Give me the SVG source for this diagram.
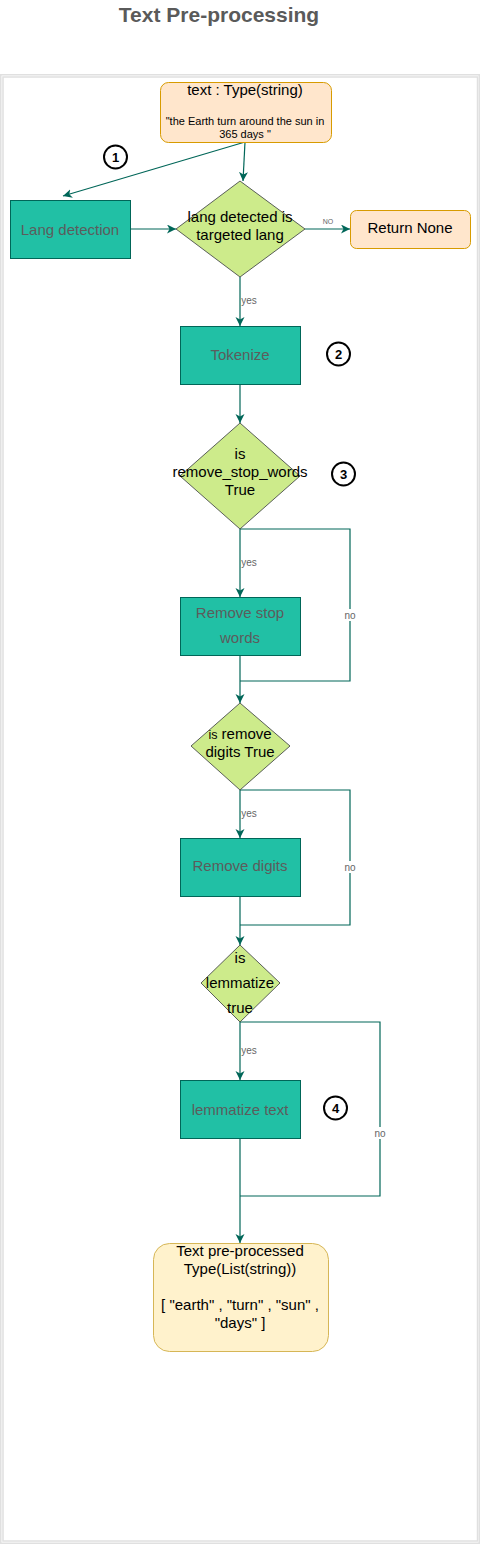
<svg xmlns="http://www.w3.org/2000/svg" width="480" height="1545" viewBox="0 0 480 1545">
<style>
text{font-family:"Liberation Sans",Arial,Helvetica,sans-serif;text-anchor:middle;dominant-baseline:central}
.proc{fill:#21c0a5;stroke:#006658;stroke-width:1}
.proc-t{fill:#5c5c5c;font-size:15px}
.dec{fill:#cdeb8b;stroke:#36393d;stroke-width:0.8}
.dec-t{fill:#000;font-size:15px}
.term{fill:#ffe6cc;stroke:#d79b00;stroke-width:1}
.out{fill:#fff2cc;stroke:#d6b656;stroke-width:1}
.blk{fill:#000;font-size:15px}
.lbl{fill:#666;font-size:10px}
.conn{fill:none;stroke:#006658;stroke-width:1.2}
.badge{fill:#fff;stroke:#000;stroke-width:2}
.badge-t{fill:#000;font-size:13px;font-weight:bold}
.frame{fill:none;stroke:#e0e0e0;stroke-width:1.5}
</style>
<defs>
<marker id="arr" markerUnits="userSpaceOnUse" markerWidth="10" markerHeight="10" refX="9" refY="4.5" orient="auto">
<path d="M0,0 L9,4.5 L0,9 L2.5,4.5 z" fill="#006658"/>
</marker>
</defs>
<rect x="0" y="0" width="480" height="1545" fill="#fff"/>
<text x="219" y="14" style="font-size:21px;font-weight:bold;fill:#5a5a5a">Text Pre-processing</text>
<rect class="frame" x="0.75" y="74.75" width="478.5" height="1468.5"/>
<rect class="frame" x="3" y="77" width="474.5" height="1464"/>

<g id="connectors">
<line class="conn" x1="245" y1="142" x2="63" y2="196" marker-end="url(#arr)"/>
<line class="conn" x1="245" y1="142" x2="243" y2="181" marker-end="url(#arr)"/>
<line class="conn" x1="130" y1="229" x2="176" y2="229" marker-end="url(#arr)"/>
<line class="conn" x1="305" y1="229" x2="350" y2="229" marker-end="url(#arr)"/>
<text x="328" y="221" style="font-size:7px;fill:#666">NO</text>
<line class="conn" x1="240" y1="277" x2="240" y2="326" marker-end="url(#arr)"/>
<rect x="242" y="294" width="16" height="12" fill="#fff"/>
<text class="lbl" x="249" y="300">yes</text>
<line class="conn" x1="240" y1="384" x2="240" y2="423" marker-end="url(#arr)"/>
<line class="conn" x1="240" y1="529" x2="240" y2="597" marker-end="url(#arr)"/>
<rect x="242" y="556" width="16" height="12" fill="#fff"/>
<text class="lbl" x="249" y="562">yes</text>
<polyline class="conn" points="240,529 350,529 350,681 240,681"/>
<rect x="343" y="609" width="14" height="12" fill="#fff"/>
<text class="lbl" x="350" y="615">no</text>
<line class="conn" x1="240" y1="655" x2="240" y2="703" marker-end="url(#arr)"/>
<line class="conn" x1="240" y1="790" x2="240" y2="838" marker-end="url(#arr)"/>
<rect x="242" y="807" width="16" height="12" fill="#fff"/>
<text class="lbl" x="249" y="813">yes</text>
<polyline class="conn" points="240,790 350,790 350,925 240,925"/>
<rect x="343" y="861" width="14" height="12" fill="#fff"/>
<text class="lbl" x="350" y="867">no</text>
<line class="conn" x1="240" y1="896" x2="240" y2="945" marker-end="url(#arr)"/>
<line class="conn" x1="240" y1="1022" x2="240" y2="1080" marker-end="url(#arr)"/>
<rect x="242" y="1044" width="16" height="12" fill="#fff"/>
<text class="lbl" x="249" y="1050">yes</text>
<polyline class="conn" points="240,1022 380,1022 380,1196 240,1196"/>
<rect x="373" y="1127" width="14" height="12" fill="#fff"/>
<text class="lbl" x="380" y="1133">no</text>
<line class="conn" x1="240" y1="1138" x2="240" y2="1243" marker-end="url(#arr)"/>
</g>

<g id="input">
<rect class="term" x="160.5" y="82.5" width="171" height="60" rx="8"/>
<text class="blk" x="245" y="89.5">text : Type(string)</text>
<text x="245" y="121" style="font-size:11px;fill:#000">"the Earth turn around the sun in</text>
<text x="245" y="134" style="font-size:11px;fill:#000">365 days "</text>
</g>
<g id="badge1"><circle class="badge" cx="115.5" cy="157" r="11.5"/><text class="badge-t" x="115.5" y="157">1</text></g>

<g id="lang-detection">
<rect class="proc" x="10.5" y="200.5" width="120" height="58"/>
<text class="proc-t" x="70" y="229">Lang detection</text>
</g>

<g id="lang-check">
<polygon class="dec" points="240,181 305,229 240,277 176,229"/>
<text class="dec-t" x="240" y="216.5">lang detected is</text>
<text class="dec-t" x="240" y="234.5">targeted lang</text>
</g>

<g id="return-none">
<rect class="term" x="350.5" y="210.5" width="120" height="38" rx="6"/>
<text class="blk" x="410" y="227.5">Return None</text>
</g>

<g id="tokenize">
<rect class="proc" x="180.5" y="326.5" width="120" height="58"/>
<text class="proc-t" x="240" y="354.5">Tokenize</text>
</g>
<g id="badge2"><circle class="badge" cx="338.5" cy="354" r="11.5"/><text class="badge-t" x="338.5" y="354">2</text></g>

<g id="stopwords-check">
<polygon class="dec" points="240,423 300,476 240,529 180,476"/>
<text class="dec-t" x="240" y="453.5">is</text>
<text class="dec-t" x="240" y="471.5">remove_stop_words</text>
<text class="dec-t" x="240" y="489.5">True</text>
</g>
<g id="badge3"><circle class="badge" cx="343.5" cy="474" r="11.5"/><text class="badge-t" x="343.5" y="474">3</text></g>

<g id="remove-stopwords">
<rect class="proc" x="180.5" y="597.5" width="120" height="58"/>
<text class="proc-t" x="240" y="612.5">Remove stop</text>
<text class="proc-t" x="240" y="637.5">words</text>
</g>

<g id="digits-check">
<polygon class="dec" points="240,703 290,746 240,790 191,746"/>
<text class="dec-t" x="240" y="739" style="dominant-baseline:alphabetic"><tspan style="font-size:12.5px">is</tspan> remove</text>
<text class="dec-t" x="240" y="751.5">digits True</text>
</g>

<g id="remove-digits">
<rect class="proc" x="180.5" y="838.5" width="120" height="58"/>
<text class="proc-t" x="240" y="865.5">Remove digits</text>
</g>

<g id="lemmatize-check">
<polygon class="dec" points="240,945 280,983 240,1022 201,983"/>
<text class="dec-t" x="240" y="957.5">is</text>
<text class="dec-t" x="240" y="982.5">lemmatize</text>
<text class="dec-t" x="240" y="1007.5">true</text>
</g>

<g id="lemmatize">
<rect class="proc" x="180.5" y="1080.5" width="120" height="58"/>
<text class="proc-t" x="240" y="1109.5">lemmatize text</text>
</g>
<g id="badge4"><circle class="badge" cx="335.5" cy="1108" r="11.5"/><text class="badge-t" x="335.5" y="1108">4</text></g>

<g id="output">
<rect class="out" x="153.5" y="1243.5" width="175" height="108" rx="16"/>
<text class="blk" x="240" y="1250.5">Text pre-processed</text>
<text class="blk" x="240" y="1268.5">Type(List(string))</text>
<text class="blk" x="240" y="1304.5">[ "earth" , "turn" , "sun" ,</text>
<text class="blk" x="240" y="1322.5">"days" ]</text>
</g>
</svg>
